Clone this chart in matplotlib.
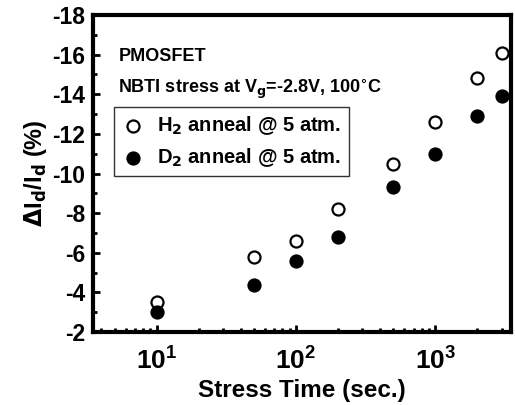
import matplotlib
matplotlib.use("Agg")
import matplotlib.pyplot as plt
from matplotlib.ticker import LogLocator, MultipleLocator, NullFormatter

plt.rcParams['font.family'] = ['Liberation Sans', 'DejaVu Sans']
plt.rcParams['font.weight'] = 'bold'
plt.rcParams['mathtext.default'] = 'bf'
plt.rcParams['axes.unicode_minus'] = False

# stress time (s) and drain current degradation (%)
t = [10, 50, 100, 200, 500, 1000, 2000, 3000]
h2 = [-3.5, -5.8, -6.6, -8.2, -10.5, -12.6, -14.8, -16.1]
d2 = [-3.0, -4.4, -5.6, -6.8, -9.3, -11.0, -12.9, -13.9]

fig = plt.figure(figsize=(5.15, 4.05), dpi=100)
ax = fig.add_axes([0.181, 0.180, 0.811, 0.783])

ax.scatter(t, h2, s=75, facecolors='white', edgecolors='black', linewidths=1.6,
           label=r'H$_2$ anneal @ 5 atm.', zorder=3)
ax.scatter(t, d2, s=75, facecolors='black', edgecolors='black', linewidths=1.6,
           label=r'D$_2$ anneal @ 5 atm.', zorder=3)

ax.set_xscale('log')
ax.set_xlim(3.5, 3500)
ax.set_ylim(-2, -18)

ax.xaxis.set_major_locator(LogLocator(base=10, numticks=10))
ax.xaxis.set_minor_locator(LogLocator(base=10, subs=range(2, 10), numticks=10))
ax.xaxis.set_minor_formatter(NullFormatter())
ax.yaxis.set_major_locator(MultipleLocator(2))
ax.yaxis.set_minor_locator(MultipleLocator(1))

for s in ax.spines.values():
    s.set_linewidth(3)
ax.tick_params(which='major', direction='in', length=5, width=2, labelsize=16.5, pad=6)
ax.tick_params(axis='x', which='major', pad=11, labelsize=19)
ax.tick_params(which='minor', direction='in', length=3, width=2)
for lab in ax.get_xticklabels() + ax.get_yticklabels():
    lab.set_fontweight('bold')

ax.set_xlabel('Stress Time (sec.)', fontsize=17.5, fontweight='bold', labelpad=3)
ax.set_ylabel(r'$\Delta$I$_d$/I$_d$ (%)', fontsize=17, fontweight='bold', labelpad=2)

ax.text(0.06, 0.855, 'PMOSFET', transform=ax.transAxes, fontsize=13, fontweight='bold')
ax.text(0.06, 0.755, r'NBTI stress at V$_g$=-2.8V, 100$^{\circ}$C', transform=ax.transAxes,
        fontsize=13, fontweight='bold')

leg = ax.legend(loc='upper left', bbox_to_anchor=(0.05, 0.71), frameon=True,
                fancybox=False, edgecolor='black', handletextpad=0.6, borderpad=0.35,
                labelspacing=0.45, handlelength=1.2, borderaxespad=0,
                prop={'weight': 'bold', 'size': 14.5})
leg.get_frame().set_linewidth(1.0)

fig.savefig('out.png', dpi=100)
